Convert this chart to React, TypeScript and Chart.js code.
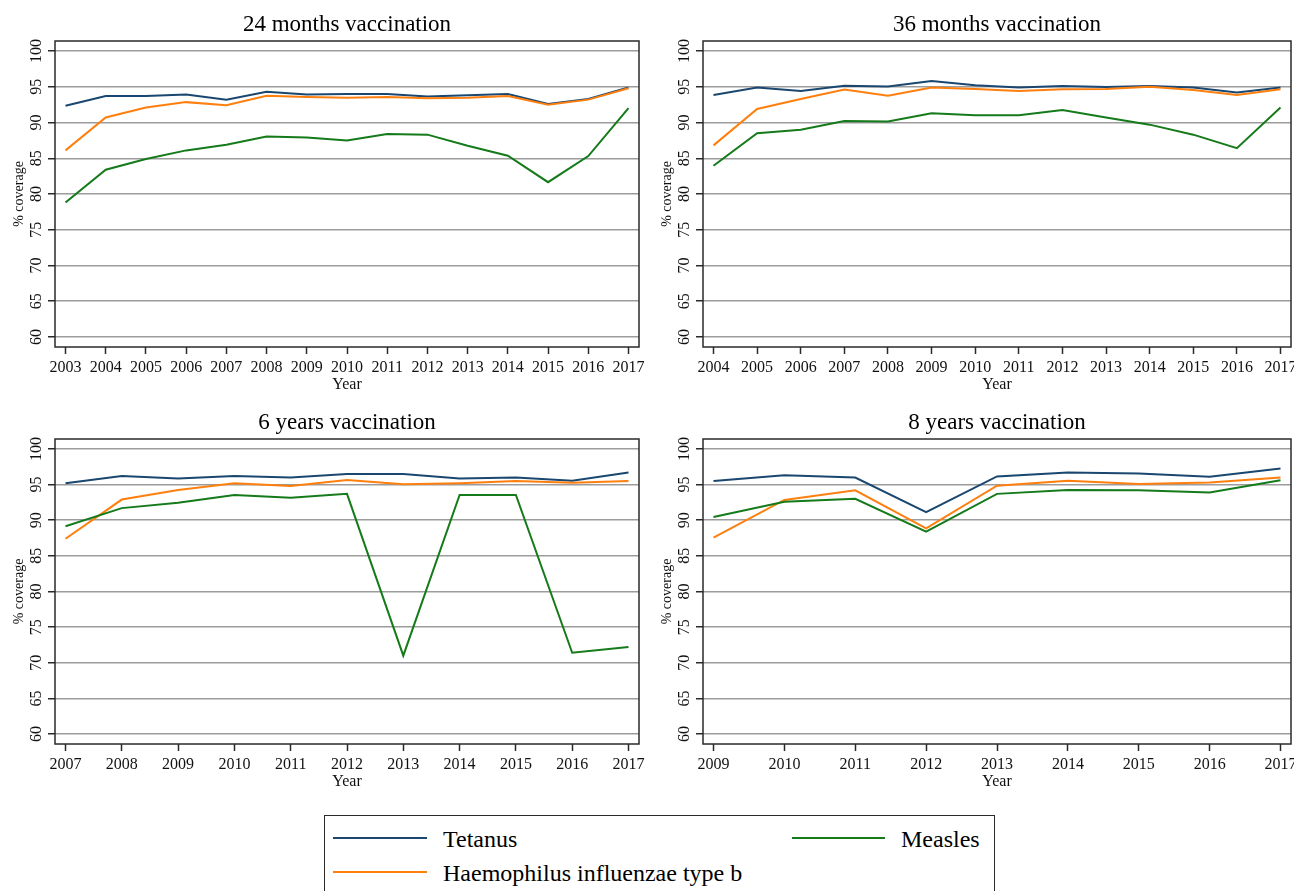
import React, { useEffect, useRef } from 'react';
import { Chart, registerables } from 'chart.js';

Chart.register(...registerables);

// ---------- data ----------
const years24 = [2003, 2004, 2005, 2006, 2007, 2008, 2009, 2010, 2011, 2012, 2013, 2014, 2015, 2016, 2017];
const tetanus24 = [92.35, 93.7, 93.7, 93.9, 93.2, 94.3, 93.9, 94.0, 94.0, 93.65, 93.8, 94.0, 92.6, 93.3, 94.9];
const hib24 = [86.1, 90.7, 92.1, 92.85, 92.4, 93.75, 93.55, 93.45, 93.55, 93.4, 93.45, 93.7, 92.5, 93.2, 94.8];
const measles24 = [78.8, 83.4, 84.9, 86.1, 86.9, 88.05, 87.9, 87.5, 88.4, 88.3, 86.75, 85.35, 81.65, 85.3, 92.0];

const years36 = [2004, 2005, 2006, 2007, 2008, 2009, 2010, 2011, 2012, 2013, 2014, 2015, 2016, 2017];
const tetanus36 = [93.85, 94.9, 94.4, 95.15, 95.05, 95.8, 95.2, 94.9, 95.1, 94.95, 95.1, 94.9, 94.2, 94.9];
const hib36 = [86.8, 91.9, 93.3, 94.6, 93.75, 94.9, 94.7, 94.4, 94.65, 94.7, 95.0, 94.55, 93.85, 94.65];
const measles36 = [83.95, 88.5, 89.0, 90.2, 90.15, 91.3, 91.0, 91.0, 91.75, 90.7, 89.7, 88.3, 86.4, 92.1];

const years6 = [2007, 2008, 2009, 2010, 2011, 2012, 2013, 2014, 2015, 2016, 2017];
const tetanus6 = [95.2, 96.2, 95.85, 96.2, 96.0, 96.5, 96.5, 95.85, 96.0, 95.55, 96.7];
const hib6 = [87.4, 92.9, 94.25, 95.2, 94.8, 95.65, 95.05, 95.2, 95.5, 95.25, 95.5];
const measles6 = [89.15, 91.7, 92.45, 93.55, 93.15, 93.7, 71.0, 93.55, 93.55, 71.4, 72.2];

const years8 = [2009, 2010, 2011, 2012, 2013, 2014, 2015, 2016, 2017];
const tetanus8 = [95.5, 96.3, 96.0, 91.15, 96.15, 96.7, 96.55, 96.1, 97.25];
const hib8 = [87.55, 92.85, 94.2, 88.85, 94.85, 95.55, 95.1, 95.3, 96.0];
const measles8 = [90.45, 92.6, 93.0, 88.4, 93.7, 94.25, 94.2, 93.9, 95.6];

const yTicks = [60, 65, 70, 75, 80, 85, 90, 95, 100];
const seriesNames = ['Tetanus', 'Haemophilus influenzae type b', 'Measles'];
const panelTitles = ['24 months vaccination', '36 months vaccination', '6 years vaccination', '8 years vaccination'];
const xAxisTitle = 'Year';
const yAxisTitle = '% coverage';

// ---------- styles ----------
const FONT = '"Liberation Serif", "Times New Roman", Times, serif';
const COL_TET = '#1a476f';
const COL_HIB = '#ff7f0e';
const COL_MEA = '#147a1a';
const TEXT = '#111111';
const FRAME = '#2a2a2a';

type Plot = { l: number; t: number; r: number; b: number };
type PanelProps = {
  title: string;
  years: number[];
  tet: number[];
  hib: number[];
  mea: number[];
  left: number;
  top: number;
  width: number;
  height: number;
  plot: Plot;
};

function Panel(props: PanelProps) {
  const ref = useRef<HTMLCanvasElement | null>(null);
  useEffect(() => {
    const { title, years, tet, hib, mea, width, height, plot } = props;
    const edgePx = 10.5;
    const plotW = plot.r - plot.l;
    const pad = (edgePx * (years.length - 1)) / (plotW - 2 * edgePx);
    const toPts = (arr: number[]) => arr.map((v, i) => ({ x: years[i], y: v }));

    const decor = {
      id: 'decor',
      afterDraw(chart: any) {
        const ctx = chart.ctx as CanvasRenderingContext2D;
        const a = chart.chartArea;
        const xs = chart.scales.x;
        const ys = chart.scales.y;
        ctx.save();
        // frame
        ctx.strokeStyle = FRAME;
        ctx.lineWidth = 1.5;
        ctx.strokeRect(a.left, a.top, a.right - a.left, a.bottom - a.top);
        ctx.fillStyle = TEXT;
        // y tick labels (rotated)
        ctx.font = `16px ${FONT}`;
        ctx.textAlign = 'center';
        ctx.textBaseline = 'middle';
        yTicks.forEach((v) => {
          const py = ys.getPixelForValue(v);
          ctx.save();
          ctx.translate(a.left - 18.5, py);
          ctx.rotate(-Math.PI / 2);
          ctx.fillText(String(v), 0, 0);
          ctx.restore();
        });
        // x tick labels
        years.forEach((yr) => {
          const px = xs.getPixelForValue(yr);
          ctx.fillText(String(yr), px, a.bottom + 21);
        });
        // x title
        ctx.font = `16px ${FONT}`;
        ctx.fillText(xAxisTitle, (a.left + a.right) / 2, a.bottom + 38);
        // y title
        ctx.save();
        ctx.font = `14px ${FONT}`;
        ctx.translate(a.left - 36, (a.top + a.bottom) / 2);
        ctx.rotate(-Math.PI / 2);
        ctx.fillText(yAxisTitle, 0, 0);
        ctx.restore();
        // panel title
        ctx.font = `23px ${FONT}`;
        ctx.fillStyle = '#000';
        ctx.fillText(title, (a.left + a.right) / 2, a.top - 16);
        ctx.restore();
      },
    };

    const chart = new Chart(ref.current as HTMLCanvasElement, {
      type: 'line',
      data: {
        datasets: [
          { label: seriesNames[0], data: toPts(tet), borderColor: COL_TET, backgroundColor: COL_TET, borderWidth: 2, pointRadius: 0, tension: 0, order: 2 },
          { label: seriesNames[1], data: toPts(hib), borderColor: COL_HIB, backgroundColor: COL_HIB, borderWidth: 2, pointRadius: 0, tension: 0, order: 1 },
          { label: seriesNames[2], data: toPts(mea), borderColor: COL_MEA, backgroundColor: COL_MEA, borderWidth: 2, pointRadius: 0, tension: 0, order: 0 },
        ],
      },
      options: {
        responsive: false,
        maintainAspectRatio: false,
        animation: false,
        events: [],
        layout: { padding: { left: 0, top: plot.t, right: width - plot.r, bottom: 0 } },
        plugins: {
          legend: { display: false },
          title: { display: false },
          tooltip: { enabled: false },
        },
        scales: {
          x: {
            type: 'linear',
            bounds: 'data',
            min: years[0] - pad,
            max: years[years.length - 1] + pad,
            afterFit: (s: any) => {
              s.height = height - plot.b;
            },
            afterBuildTicks: (s: any) => {
              s.ticks = years.map((v) => ({ value: v }));
            },
            ticks: { display: false },
            grid: {
              drawOnChartArea: false,
              drawTicks: true,
              tickLength: 7,
              tickColor: FRAME,
              tickWidth: 1.5,
            },
            border: { display: false },
          },
          y: {
            type: 'linear',
            bounds: 'data',
            min: 58.6,
            max: 101.4,
            afterFit: (s: any) => {
              s.width = plot.l;
            },
            afterBuildTicks: (s: any) => {
              s.ticks = yTicks.map((v) => ({ value: v }));
            },
            ticks: { display: false },
            grid: {
              color: '#9c9c9c',
              lineWidth: 1.5,
              drawTicks: true,
              tickLength: 7,
              tickColor: FRAME,
              tickWidth: 1.5,
            },
            border: { display: false },
          },
        },
      } as any,
      plugins: [decor],
    });
    return () => chart.destroy();
  }, []);
  return (
    <canvas
      ref={ref}
      width={props.width}
      height={props.height}
      style={{ position: 'absolute', left: props.left, top: props.top, width: props.width, height: props.height }}
    />
  );
}

function LegendBox() {
  const line = (x: number, y: number, w: number, c: string) => (
    <div style={{ position: 'absolute', left: x, top: y - 1, width: w, height: 2, background: c }} />
  );
  const label = (x: number, y: number, text: string) => (
    <div
      style={{
        position: 'absolute',
        left: x,
        top: y - 15,
        height: 30,
        lineHeight: '30px',
        fontSize: 24,
        fontFamily: FONT,
        color: '#000',
        whiteSpace: 'nowrap',
      }}
    >
      {text}
    </div>
  );
  return (
    <>
      <div
        style={{
          position: 'absolute',
          left: 324,
          top: 815,
          width: 671,
          height: 100,
          border: `1.5px solid ${FRAME}`,
          boxSizing: 'border-box',
        }}
      />
      {line(333, 838, 94, COL_TET)}
      {label(443, 839, seriesNames[0])}
      {line(333, 872, 94, COL_HIB)}
      {label(443, 873, seriesNames[1])}
      {line(792, 838, 93, COL_MEA)}
      {label(901, 839, seriesNames[2])}
    </>
  );
}

export default function App() {
  return (
    <div
      style={{
        position: 'fixed',
        left: 0,
        top: 0,
        width: 1294,
        height: 891,
        overflow: 'hidden',
        background: '#fff',
      }}
    >
      <Panel title={panelTitles[0]} years={years24} tet={tetanus24} hib={hib24} mea={measles24}
        left={0} top={0} width={647} height={395} plot={{ l: 55, t: 41, r: 639, b: 347 }} />
      <Panel title={panelTitles[1]} years={years36} tet={tetanus36} hib={hib36} mea={measles36}
        left={647} top={0} width={647} height={395} plot={{ l: 56, t: 41, r: 644, b: 347 }} />
      <Panel title={panelTitles[2]} years={years6} tet={tetanus6} hib={hib6} mea={measles6}
        left={0} top={395} width={647} height={400} plot={{ l: 55, t: 44, r: 639, b: 349 }} />
      <Panel title={panelTitles[3]} years={years8} tet={tetanus8} hib={hib8} mea={measles8}
        left={647} top={395} width={647} height={400} plot={{ l: 56, t: 44, r: 644, b: 349 }} />
      <LegendBox />
    </div>
  );
}
